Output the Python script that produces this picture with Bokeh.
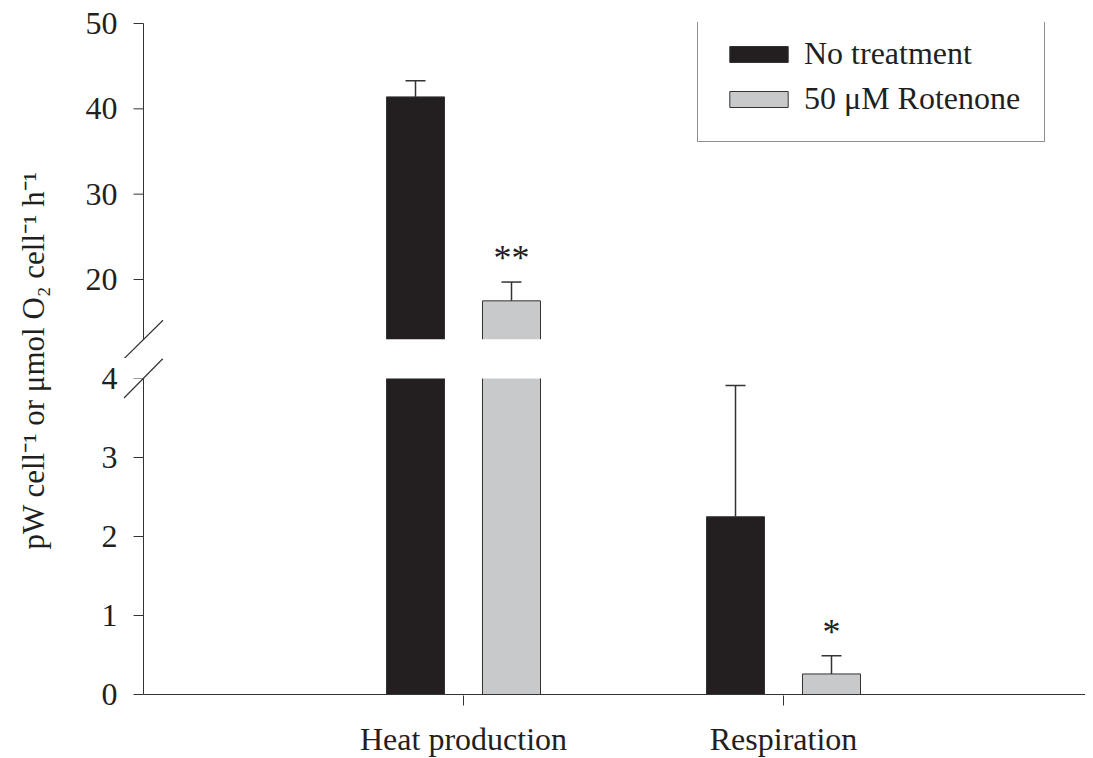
import math
from bokeh.plotting import figure
from bokeh.models import (ColumnDataSource, Range1d, FixedTicker, Whisker, TeeHead,
                          Label, Arrow, Legend, LegendItem, BoxAnnotation, CDSView,
                          BooleanFilter)
from bokeh.layouts import row, column
from bokeh.embed import file_html
from bokeh.resources import INLINE
from bokeh.core.properties import value

# ---------------- data ----------------
categories = ["Heat production", "Respiration"]
cat_pos = [1, 2]
no_treatment = [41.4, 2.25]
no_treatment_err = [1.9, 1.66]
rotenone = [17.5, 0.26]
rotenone_err = [2.2, 0.23]
significance = ["**", "*"]
upper_ticks = [20, 30, 40, 50]
lower_ticks = [0, 1, 2, 3, 4]
series_labels = ["No treatment", "50 μM Rotenone"]
y_label = "pW cell⁻¹ or μmol O₂ cell⁻¹ h⁻¹"

# axis break: lower segment 0..4, upper segment 13..50
LOWER_MAX = 4.0
UPPER_MIN = 13.0
UPPER_MAX = 50.0

# ---------------- style / geometry ----------------
FONT = "Liberation Serif"
FS = "32px"
TXT = "#231f20"
AX = "#333333"
BLACK = "#231f20"
GREY = "#c8c9cb"
OFF = 0.15          # bar offset from category centre
BW = 0.18125        # bar width
XPX = 320.0         # px per category unit
UPX = 256.0 / 30.0  # px per unit, upper segment
LPX = 79.0          # px per unit, lower segment
LEFT_PAD = 20.0     # px of frame left of the y axis line
FRAME_W = 962
U_FRAME_H = 336
L_FRAME_H = 337
LAB_W = 70
B_LEFT = 53
OVER = 8.0          # px the bars run on into the (white-masked) break

x_range = Range1d(-LEFT_PAD / XPX, -LEFT_PAD / XPX + FRAME_W / XPX)

u_end = UPPER_MAX + 1.0 / UPX
u_range = (u_end - U_FRAME_H / UPX, u_end)
l_start = -1.0 / LPX
l_range = (l_start, l_start + L_FRAME_H / LPX)

lower_cap = LOWER_MAX + OVER / LPX
data = dict(
    x_nt=[c - OFF for c in cat_pos], x_rot=[c + OFF for c in cat_pos],
    nt=no_treatment, nt_hi=[v + e for v, e in zip(no_treatment, no_treatment_err)],
    rot=rotenone, rot_hi=[v + e for v, e in zip(rotenone, rotenone_err)],
    nt_low=[min(v, lower_cap) for v in no_treatment],
    rot_low=[min(v, lower_cap) for v in rotenone],
    sig=significance,
)
src = ColumnDataSource(data)


def make_fig(yr, ticks, seg_lo, seg_hi, top, bottom, xaxis, break_box, upper_seg):
    y0, y1 = yr
    p = figure(x_range=x_range, y_range=Range1d(y0, y1), frame_width=FRAME_W,
               frame_height=U_FRAME_H if not xaxis else L_FRAME_H,
               min_border_left=B_LEFT, min_border_right=0, min_border_top=top,
               min_border_bottom=bottom, output_backend="svg", toolbar_location=None,
               tools="", x_axis_location="below" if xaxis else None)
    p.outline_line_color = None
    p.grid.visible = False
    p.background_fill_color = "white"
    p.border_fill_color = "white"
    ya = p.yaxis[0]
    ya.ticker = FixedTicker(ticks=ticks)
    ya.minor_tick_line_color = None
    ya.major_tick_line_color = None
    ya.axis_line_color = None
    ya.major_tick_out = 0
    ya.major_tick_in = 0
    ya.major_label_text_font = FONT
    ya.major_label_text_font_size = FS
    ya.major_label_text_color = TXT
    ya.major_label_standoff = 6

    if upper_seg:
        base = UPPER_MIN - OVER / UPX
        v_nt = CDSView(filter=BooleanFilter([v > UPPER_MIN for v in no_treatment]))
        v_rot = CDSView(filter=BooleanFilter([v > UPPER_MIN for v in rotenone]))
        r1 = p.vbar(x="x_nt", top="nt", bottom=base, width=BW, source=src, view=v_nt,
                    fill_color=BLACK, line_color=AX, line_width=1)
        r2 = p.vbar(x="x_rot", top="rot", bottom=base, width=BW, source=src, view=v_rot,
                    fill_color=GREY, line_color=AX, line_width=1)
    else:
        r1 = p.vbar(x="x_nt", top="nt_low", bottom=0, width=BW, source=src,
                    fill_color=BLACK, line_color=AX, line_width=1)
        r2 = p.vbar(x="x_rot", top="rot_low", bottom=0, width=BW, source=src,
                    fill_color=GREY, line_color=AX, line_width=1)

    # y-axis line and ticks of this segment
    p.segment(x0=[0], y0=[seg_lo], x1=[0], y1=[seg_hi], line_color=AX, line_width=1)
    p.segment(x0=[-10.0 / XPX] * len(ticks), y0=ticks, x1=[0] * len(ticks), y1=ticks,
              line_color=AX, line_width=1)

    # white band masking the bar ends inside the break
    p.add_layout(BoxAnnotation(**break_box, fill_color="white", fill_alpha=1,
                               line_alpha=0, line_color=None))

    for xs, lo, hi in (("x_nt", "nt", "nt_hi"), ("x_rot", "rot", "rot_hi")):
        p.add_layout(Whisker(base=xs, lower=lo, upper=hi, source=src, dimension="height",
                             lower_head=None,
                             upper_head=TeeHead(size=20, line_color=AX, line_width=1.5),
                             line_color=AX, line_width=1.5))
    txt_view = CDSView(filter=BooleanFilter([y0 < v < y1 for v in data["rot_hi"]]))
    p.text(x="x_rot", y="rot_hi", text="sig", source=src, view=txt_view,
           text_font=value(FONT), text_font_size="36px", text_color=TXT,
           text_align="center", text_baseline="alphabetic", y_offset=-24)
    return p, r1, r2


upper, r1, r2 = make_fig(u_range, upper_ticks, UPPER_MIN, UPPER_MAX, 22, 0, False,
                         dict(top=UPPER_MIN, bottom=u_range[0] - 10), True)
lower, _, _ = make_fig(l_range, lower_ticks, 0, LOWER_MAX, 0, 55, True,
                       dict(bottom=LOWER_MAX, top=l_range[1] + 10), False)

# x axis: line drawn from the y axis to the right end, ticks from Bokeh
lower.segment(x0=[0], y0=[0], x1=[x_range.end], y1=[0], line_color=AX, line_width=1)
xa = lower.xaxis[0]
xa.ticker = FixedTicker(ticks=cat_pos)
xa.major_label_overrides = {c: lab for c, lab in zip(cat_pos, categories)}
xa.minor_tick_line_color = None
xa.axis_line_color = None
xa.major_tick_out = 10
xa.major_tick_in = 0
xa.major_tick_line_color = AX
xa.major_label_text_font = FONT
xa.major_label_text_font_size = FS
xa.major_label_text_color = TXT
xa.major_label_standoff = 15

# axis-break slashes
dx = 19.5 / XPX
upper.add_layout(Arrow(x_start=-dx, y_start=UPPER_MIN - 19.5 / UPX, x_end=dx,
                       y_end=UPPER_MIN + 19.0 / UPX, start=None, end=None,
                       line_color=AX, line_width=1.2))
lower.add_layout(Arrow(x_start=-dx, y_start=LOWER_MAX - 19.5 / LPX, x_end=dx,
                       y_end=LOWER_MAX + 20.0 / LPX, start=None, end=None,
                       line_color=AX, line_width=1.2))

legend = Legend(items=[LegendItem(label=series_labels[0], renderers=[r1]),
                       LegendItem(label=series_labels[1], renderers=[r2])],
                location=(574, 216), margin=0, padding=24, spacing=8,
                glyph_width=73, glyph_height=20, label_standoff=9,
                label_text_font=FONT, label_text_font_size=FS, label_text_color=TXT,
                border_line_color=TXT, border_line_width=1, background_fill_alpha=1)
upper.add_layout(legend)

H = 22 + U_FRAME_H + L_FRAME_H + 55
labfig = figure(width=LAB_W, height=H, x_range=Range1d(0, 1), y_range=Range1d(0, 1),
                min_border=0, output_backend="svg", toolbar_location=None, tools="",
                x_axis_location=None, y_axis_location=None)
labfig.outline_line_color = None
labfig.grid.visible = False
labfig.add_layout(Label(x=33.0 / LAB_W, y=1 - 360.0 / H, text=y_label, angle=math.pi / 2,
                        text_align="center", text_baseline="middle", text_font=FONT,
                        text_font_size="31px", text_color=TXT))

layout = row(labfig, column(upper, lower))
open("out.html", "w").write(file_html(layout, INLINE))
